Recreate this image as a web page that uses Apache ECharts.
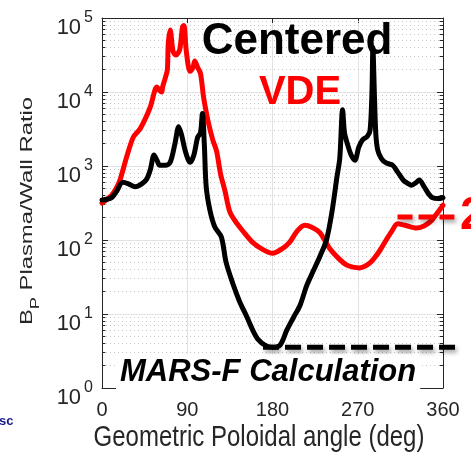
<!DOCTYPE html>
<html><head><meta charset="utf-8">
<script src="https://cdn.jsdelivr.net/npm/echarts@6/dist/echarts.min.js"></script>
<style>html,body{margin:0;padding:0;background:#fff}#c{width:471px;height:460px}</style>
</head><body><div id="c"></div>
<script>
// Geometric poloidal angle (deg) and Bp plasma/wall ratio
const vdeAngle = [0,10,15,19,26,33,40,45,51,56,58,60,63,64,67,69,70,72,75,78,82,85,86.5,89,93,96,98,101,104,107,109,112,117,121,125,130,135,142,150,159,170,180,190,198,206,214,222,230,240,250,258,265,272,280,286,293,300,306,312,320,332,340,346,352,360];
const vdeRatio = [316,400,500,646,1320,2450,3160,4170,6300,10700,11700,10700,10000,11700,15800,20000,45700,69000,35500,31600,37200,75900,79400,35500,19000,21400,26300,21400,17800,8900,6300,4000,2240,1580,800,450,240,170,126,93,74,66,76,93,132,158,148,126,78,56,46,43,42,46,54,71,100,132,166,158,145,155,174,214,295];

const cenAngle = [0,5,10,15,22,28,35,42,47,51,55,58,61,67,72,77,81,84,88,93,97,101,104,106,108,110,114,119,126,131,138,145,153,160,165,172,180,188,195,202,209,216,223,230,237,243,248,251,254,256,259,263,267,271,275,280,283,285,286,287.5,289,291,295,300,307,312,318,322,327,331,335,340,345,349,355,360];
const cenRatio = [347,355,372,447,603,575,525,575,660,890,1410,1200,1020,1020,1120,2000,3390,2630,1580,1120,1410,2450,2820,5130,2000,525,250,151,110,50,26,15,9.1,5.75,4.5,3.8,3.55,3.8,6.0,8.9,13,24,38,60,100,250,708,1260,5750,2820,2000,1410,1200,1780,2240,2510,3020,10000,39800,10000,2820,1660,1260,1100,1020,832,646,590,550,590,646,525,417,372,363,372];

// reference dashed levels
const blackRefAngle = [170, 375.8];
const blackRefRatio = [3.55, 3.55];
const redRefAngle = [312, 372];
const redRefRatio = [204, 204];

const xTicks = [0, 90, 180, 270, 360];
const yMin = 1, yMax = 100000;
const xMax = 360;
// the annotation layer reaches past the right edge of the axes box
const xMaxWide = xMax * (471 - 102 - 11) / (471 - 102 - 28);

const minorVals = [];
for (let d = 1; d < yMax; d *= 10) for (let k = 2; k <= 9; k++) minorVals.push(d * k);

const zip = (a, b) => a.map((v, i) => [v, b[i]]);
const axisCol = '#262626';
const FF = '"Liberation Sans", Arial, sans-serif';

const chart = echarts.init(document.getElementById('c'), null, {renderer: 'canvas'});
const minorTickSegs = [];
minorVals.forEach(v => {
  minorTickSegs.push([{coord: [0, v]}, {coord: [3.5, v]}]);
  minorTickSegs.push([{coord: [356.5, v]}, {coord: [360, v]}]);
});
const shadow = {shadowColor: 'rgba(0,0,0,0.35)', shadowBlur: 4, shadowOffsetX: 2, shadowOffsetY: 3};

chart.setOption({
  animation: false,
  backgroundColor: '#fff',
  grid: [
    {left: 102, right: 28, top: 18, bottom: 72, containLabel: false},
    {left: 102, right: 11, top: 18, bottom: 72, containLabel: false}
  ],
  xAxis: [{
    type: 'value', min: 0, max: xMax, interval: 90,
    axisLine: {show: true, onZero: false, lineStyle: {color: axisCol, width: 1}},
    axisTick: {show: true, inside: true, length: 5, lineStyle: {color: axisCol}},
    axisLabel: {fontFamily: FF, fontSize: 20, color: axisCol, margin: 12,
      formatter: v => xTicks.includes(v) ? String(v) : ''},
    splitLine: {show: true, lineStyle: {color: '#e2e2e2', width: 1}}
  }, {
    type: 'value', min: 0, max: xMax, interval: 90, position: 'top',
    axisLine: {show: true, onZero: false, lineStyle: {color: axisCol, width: 1}},
    axisTick: {show: true, inside: true, length: 5, lineStyle: {color: axisCol}},
    axisLabel: {show: false}, splitLine: {show: false}
  }, {
    type: 'value', gridIndex: 1, min: 0, max: xMaxWide, show: false
  }],
  yAxis: [{
    type: 'log', logBase: 10, min: yMin, max: yMax, interval: 1,
    axisLine: {show: true, onZero: false, lineStyle: {color: axisCol, width: 1}},
    axisTick: {show: true, inside: true, length: 6, lineStyle: {color: axisCol}},
    axisLabel: {
      margin: 9, color: axisCol,
      formatter: v => '{b|10}{e|' + Math.round(Math.log10(v)) + '}',
      rich: {
        b: {fontFamily: FF, fontSize: 22, color: axisCol, padding: [20, 0, 0, 0]},
        e: {fontFamily: FF, fontSize: 16, color: axisCol, padding: [4, 0, 4, 3]}
      }
    },
    splitLine: {show: true, lineStyle: {color: '#e2e2e2', width: 1}}
  }, {
    type: 'log', logBase: 10, min: yMin, max: yMax, interval: 1, position: 'right',
    axisLine: {show: true, onZero: false, lineStyle: {color: axisCol, width: 1}},
    axisTick: {show: true, inside: true, length: 6, lineStyle: {color: axisCol}},
    axisLabel: {show: false}, splitLine: {show: false}
  }, {
    type: 'log', gridIndex: 1, logBase: 10, min: yMin, max: yMax, show: false
  }],
  series: [
    {
      type: 'line', name: 'grid-minor', data: [], silent: true, z: 1,
      markLine: {silent: true, z: 1, symbol: ['none', 'none'], label: {show: false},
        lineStyle: {color: '#c8c8c8', type: [1, 3], width: 1},
        data: minorVals.map(v => ({yAxis: v}))}
    },
    {
      type: 'line', name: 'minor-ticks', data: [], silent: true, z: 1,
      markLine: {silent: true, z: 1, symbol: ['none', 'none'], label: {show: false},
        lineStyle: {color: axisCol, type: 'solid', width: 1},
        data: minorTickSegs}
    },
    {
      type: 'line', name: 'VDE', data: zip(vdeAngle, vdeRatio), showSymbol: false,
      smooth: 0.3,
      lineStyle: {color: '#ff0000', width: 5, join: 'round', cap: 'round'}, z: 3
    },
    {
      type: 'line', name: 'Centered', data: zip(cenAngle, cenRatio), showSymbol: false,
      smooth: 0.3,
      lineStyle: {color: '#000000', width: 5, join: 'round', cap: 'round'}, z: 4
    },
    {
      type: 'line', name: 'black-ref', xAxisIndex: 2, yAxisIndex: 2,
      data: zip(blackRefAngle, blackRefRatio), showSymbol: false, clip: false,
      lineStyle: Object.assign({color: '#000', width: 5, type: [16, 6]}, shadow), z: 5
    },
    {
      type: 'line', name: 'red-ref', xAxisIndex: 2, yAxisIndex: 2,
      data: zip(redRefAngle, redRefRatio), showSymbol: false, clip: false,
      lineStyle: Object.assign({color: '#ff0000', width: 5, type: [15, 6]}, shadow), z: 5
    }
  ],
  graphic: [
    {type: 'text', x: 297, y: 42, z: 10, style: {text: 'Centered', fontFamily: FF, fontWeight: 'bold', fontSize: 44, fill: '#000', align: 'center', verticalAlign: 'middle'}},
    {type: 'text', x: 300, y: 93, z: 10, style: {text: 'VDE', fontFamily: FF, fontWeight: 'bold', fontSize: 40, fill: '#ff0000', align: 'center', verticalAlign: 'middle'}},
    {type: 'text', x: 116, y: 372, z: 10, style: {text: 'MARS-F Calculation', fontFamily: FF, fontWeight: 'bold', fontStyle: 'italic', fontSize: 31, fill: '#000', align: 'left', verticalAlign: 'middle', backgroundColor: '#fff', padding: [2, 4]}},
    {type: 'text', x: 460, y: 216, z: 10, style: Object.assign({text: '2', fontFamily: FF, fontWeight: 'bold', fontSize: 46, fill: '#ff0000', align: 'left', verticalAlign: 'middle'}, shadow)},
    {type: 'text', x: -1, y: 421, z: 10, style: {text: 'sc', fontFamily: FF, fontWeight: 'bold', fontSize: 13, fill: '#1a1a8c', align: 'left', verticalAlign: 'middle'}},
    {type: 'text', x: 259, y: 438, z: 10, scaleY: 1.2, style: {text: 'Geometric Poloidal angle (deg)', fontFamily: FF, fontSize: 24, fill: axisCol, align: 'center', verticalAlign: 'middle'}},
    {type: 'text', x: 27, y: 211, z: 10, rotation: Math.PI / 2, scaleX: 1.4,
      style: {text: '{b|B}{s|P}{n| Plasma/Wall Ratio}', align: 'center', verticalAlign: 'middle', fill: axisCol,
        rich: {
          b: {fontFamily: FF, fontSize: 17, fill: axisCol},
          s: {fontFamily: FF, fontSize: 13, fill: axisCol, padding: [16, 0, 0, 0]},
          n: {fontFamily: FF, fontSize: 17, fill: axisCol}
        }}}
  ]
});
</script></body></html>
